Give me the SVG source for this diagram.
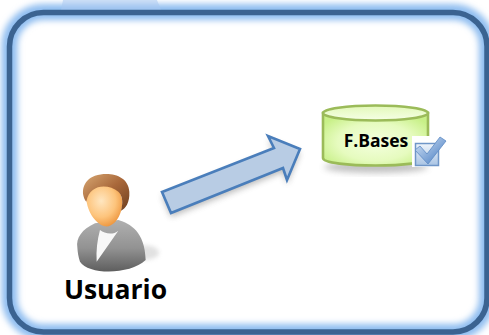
<svg xmlns="http://www.w3.org/2000/svg" width="489" height="335" viewBox="0 0 489 335">
<style>
.lbl{font-family:"Open Sans","Noto Sans","Liberation Sans",sans-serif;font-weight:700;fill:#000}
</style>
<defs>
<filter id="glow" x="-5%" y="-8%" width="110%" height="116%"><feGaussianBlur stdDeviation="3"/></filter>
<filter id="sh" x="-20%" y="-20%" width="140%" height="150%"><feGaussianBlur stdDeviation="3"/></filter>
<filter id="sh2" x="-30%" y="-60%" width="160%" height="220%"><feGaussianBlur stdDeviation="6"/></filter>
<radialGradient id="cyl" cx="0.5" cy="0.55" r="0.6"><stop offset="0" stop-color="#f4ffdf"/><stop offset="0.6" stop-color="#e6fbbf"/><stop offset="1" stop-color="#c8f088"/></radialGradient>
<linearGradient id="cylTop" x1="0" y1="0" x2="0" y2="1"><stop offset="0" stop-color="#e2f8b8"/><stop offset="1" stop-color="#f6ffe6"/></linearGradient>
<radialGradient id="face" cx="0.42" cy="0.38" r="0.72"><stop offset="0" stop-color="#ffe6c0"/><stop offset="0.55" stop-color="#fdc47c"/><stop offset="1" stop-color="#e98a2e"/></radialGradient>
<linearGradient id="hair" x1="0" y1="0" x2="1" y2="1"><stop offset="0" stop-color="#d8a873"/><stop offset="0.5" stop-color="#a9683a"/><stop offset="1" stop-color="#6e3f20"/></linearGradient>
<linearGradient id="suit" x1="0" y1="0" x2="0" y2="1"><stop offset="0" stop-color="#b0b0b0"/><stop offset="0.55" stop-color="#929292"/><stop offset="1" stop-color="#5e5e5e"/></linearGradient>
<linearGradient id="chk" x1="0" y1="0" x2="1" y2="1"><stop offset="0" stop-color="#dbe8f7"/><stop offset="1" stop-color="#3f77c0"/></linearGradient>
<linearGradient id="box" x1="0" y1="0" x2="0" y2="1"><stop offset="0" stop-color="#eef4fb"/><stop offset="1" stop-color="#a9c4e4"/></linearGradient>
</defs>

<g id="frame">
<rect x="9.500" y="12" width="477.500" height="320" rx="34" ry="34" fill="none" stroke="#8fbdf0" stroke-width="16" filter="url(#glow)"/>
<path d="M63 0H157L163 15H60Z" fill="#a9c9f0" opacity="0.55"/>
<rect x="9.500" y="12.500" width="477.500" height="319.500" rx="34" ry="34" fill="none" stroke="#3b6391" stroke-width="5.500"/>
</g>

<g id="connectors">
<polygon points="162,192 171,213 283,168 287,180 300,149 268,136 274,148" fill="#555" opacity="0.4" filter="url(#sh)" transform="translate(0,4)"/>
<polygon points="162,192 171,213 283,168 287,180 300,149 268,136 274,148" fill="#b8cce4" stroke="#4a7ebb" stroke-width="2.600"/>
</g>

<g id="usuario">
<g transform="translate(50,160) scale(0.3333)">
<ellipse cx="285" cy="278" rx="42" ry="22" fill="#aaa" opacity="0.35" filter="url(#sh2)"/>
<path d="M82 262C78 235 95 208 135 190L205 180C240 190 285 215 287 300C240 345 115 345 90 305C85 290 83 278 82 262Z" fill="url(#suit)"/>
<path d="M150 210C165 222 190 225 205 212L140 305C138 270 142 240 150 210Z" fill="#f8f8f8"/>
<path d="M108 105C112 80 150 72 185 78C214 88 222 120 214 150C206 182 185 202 165 199C135 192 108 150 108 105Z" fill="url(#face)"/>
<path d="M109 125C90 100 98 60 135 47C178 34 235 45 238 95C240 128 226 146 213 152C219 130 219 108 205 95C175 72 120 70 109 125Z" fill="url(#hair)"/>
</g>
<text class="lbl" x="115.500" y="299" font-size="26.500" text-anchor="middle">Usuario</text>
</g>

<g id="fbases">
<ellipse cx="376" cy="167" rx="52" ry="6" fill="#777" opacity="0.45" filter="url(#sh)"/>
<path d="M323 113V158C323 168 428 168 428 158V113Z" fill="url(#cyl)" stroke="#9bbb59" stroke-width="2.600"/>
<ellipse cx="375.500" cy="113" rx="52.500" ry="7.500" fill="url(#cylTop)" stroke="#9bbb59" stroke-width="2.600"/>
<text class="lbl" x="376" y="147" font-size="17.500" text-anchor="middle">F.Bases</text>
<rect x="412" y="136" width="33" height="31" fill="#fff"/>
<rect x="415.500" y="143.500" width="23" height="22" fill="url(#box)" stroke="#6f96c8" stroke-width="1.500"/>
<path d="M415 150L420 146L427 154L440 137L446 141L428 164Z" fill="url(#chk)" stroke="#5d8ac4" stroke-width="0.800"/>
</g>
</svg>
